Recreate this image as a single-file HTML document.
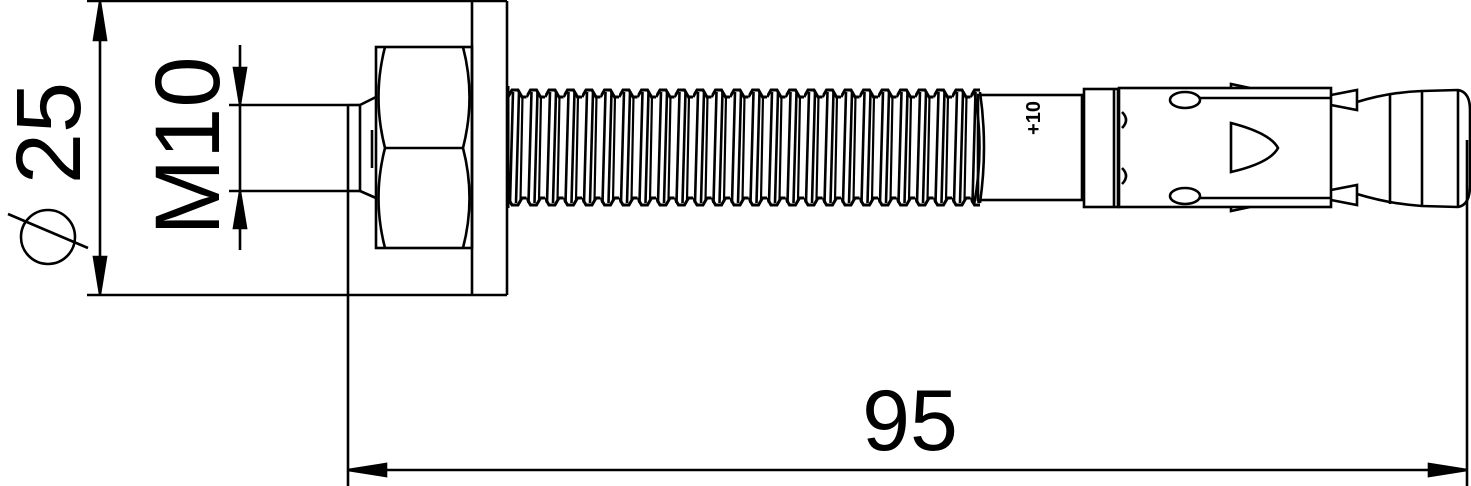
<!DOCTYPE html>
<html><head><style>html,body{margin:0;padding:0;background:#fff;}svg{display:block}</style></head>
<body>
<svg width="1471" height="486" viewBox="0 0 1471 486" xmlns="http://www.w3.org/2000/svg">
<defs>
<pattern id="thr" patternUnits="userSpaceOnUse" x="508" y="0" width="18.5" height="486">
<path d="M0,97 L4,90 L10,90 L14,97 L18.5,97" fill="none" stroke="#000" stroke-width="3"/>
<path d="M0,198 L4,205 L10,205 L14,198 L18.5,198" fill="none" stroke="#000" stroke-width="3"/>
<line x1="5" y1="92" x2="2" y2="203" stroke="#000" stroke-width="2.6"/>
<line x1="11" y1="92" x2="8" y2="203" stroke="#000" stroke-width="2.6"/>
<line x1="14.5" y1="96" x2="12.5" y2="200" stroke="#000" stroke-width="2.2"/>
</pattern>
</defs>
<g fill="none" stroke="#000" stroke-width="2.6">
<line x1="87" y1="1" x2="507" y2="1"/>
<line x1="87" y1="295" x2="507" y2="295"/>
<line x1="100" y1="3" x2="100" y2="293"/>
<path d="M100,2 L94,40 L106,40 Z" fill="#000"/>
<path d="M100,294 L94,257 L106,257 Z" fill="#000"/>
<line x1="472" y1="1" x2="472" y2="295"/>
<line x1="507" y1="1" x2="507" y2="295"/>
<rect x="376" y="47" width="96" height="201"/>
<line x1="385" y1="148" x2="463" y2="148"/>
<path d="M385,47 Q372,97 385,148 Q372,198 385,248"/>
<path d="M463,47 Q476,97 463,148 Q476,198 463,248"/>
<line x1="348" y1="105" x2="360" y2="105"/>
<line x1="348" y1="191" x2="360" y2="191"/>
<path d="M360,105 L376,97 M360,105 L360,191 L376,198"/>
<line x1="372" y1="130" x2="372" y2="168"/>
<line x1="229" y1="105" x2="348" y2="105"/>
<line x1="229" y1="191" x2="348" y2="191"/>
<line x1="240" y1="45" x2="240" y2="250"/>
<path d="M240,104 L234,68 L246,68 Z" fill="#000"/>
<path d="M240,192 L234,228 L246,228 Z" fill="#000"/>
<line x1="348" y1="105" x2="348" y2="486"/>
<line x1="1467" y1="140" x2="1467" y2="486"/>
<line x1="350" y1="470" x2="1465" y2="470"/>
<path d="M348,470 L386,464 L386,476 Z" fill="#000"/>
<path d="M1467,470 L1429,464 L1429,476 Z" fill="#000"/>
<circle cx="48" cy="237" r="27"/>
<line x1="8" y1="214" x2="88" y2="248"/>
</g>
<rect x="508" y="86" width="472" height="122" fill="url(#thr)"/>
<line x1="508" y1="86" x2="508" y2="208" stroke="#000" stroke-width="3"/>
<g fill="none" stroke="#000" stroke-width="2.6">
<rect x="978" y="95" width="104" height="105" fill="#fff"/>
<path d="M974,90 Q985,147 974,205"/>
<path d="M980,92 Q988,147 980,203"/>
<rect x="1084" y="89" width="34" height="118" fill="#fff"/>
<line x1="1114" y1="90" x2="1114" y2="206"/>
<rect x="1119" y="88" width="212" height="119"/>
<line x1="1200" y1="98" x2="1331" y2="98"/>
<line x1="1200" y1="198" x2="1331" y2="198"/>
<ellipse cx="1185" cy="100" rx="15" ry="8"/>
<ellipse cx="1185" cy="196" rx="15" ry="8"/>
<path d="M1231,123 Q1270,133 1278,148 Q1270,163 1231,172 Z"/>
<path d="M1122,112 Q1130,120 1122,128 M1122,168 Q1130,176 1122,184"/>
<path d="M1231,88 L1231,84 L1250,88 M1231,207 L1231,211 L1250,207"/>
<path d="M1331,95 L1357,90 L1357,110 L1331,105"/>
<path d="M1331,200 L1357,205 L1357,185 L1331,190"/>
<path d="M1357,102 Q1390,92 1422,91 L1458,90 Q1470,92 1470,110 L1470,185 Q1470,205 1458,207 L1422,206 Q1390,204 1357,194"/>
<line x1="1390" y1="94" x2="1390" y2="204"/>
<line x1="1422" y1="91" x2="1422" y2="206"/>
<line x1="1458" y1="90" x2="1458" y2="207"/>
</g>
<g font-family="Liberation Sans, sans-serif" fill="#000">
<text transform="translate(1040,118) rotate(-90)" font-size="20" font-weight="bold" text-anchor="middle">+10</text>
<text transform="translate(219,146) rotate(-90)" font-size="92" text-anchor="middle">M10</text>
<text transform="translate(80,133) rotate(-90)" font-size="92" text-anchor="middle">25</text>
<text x="910" y="450" font-size="86" text-anchor="middle">95</text>
</g>
</svg>
</body></html>
